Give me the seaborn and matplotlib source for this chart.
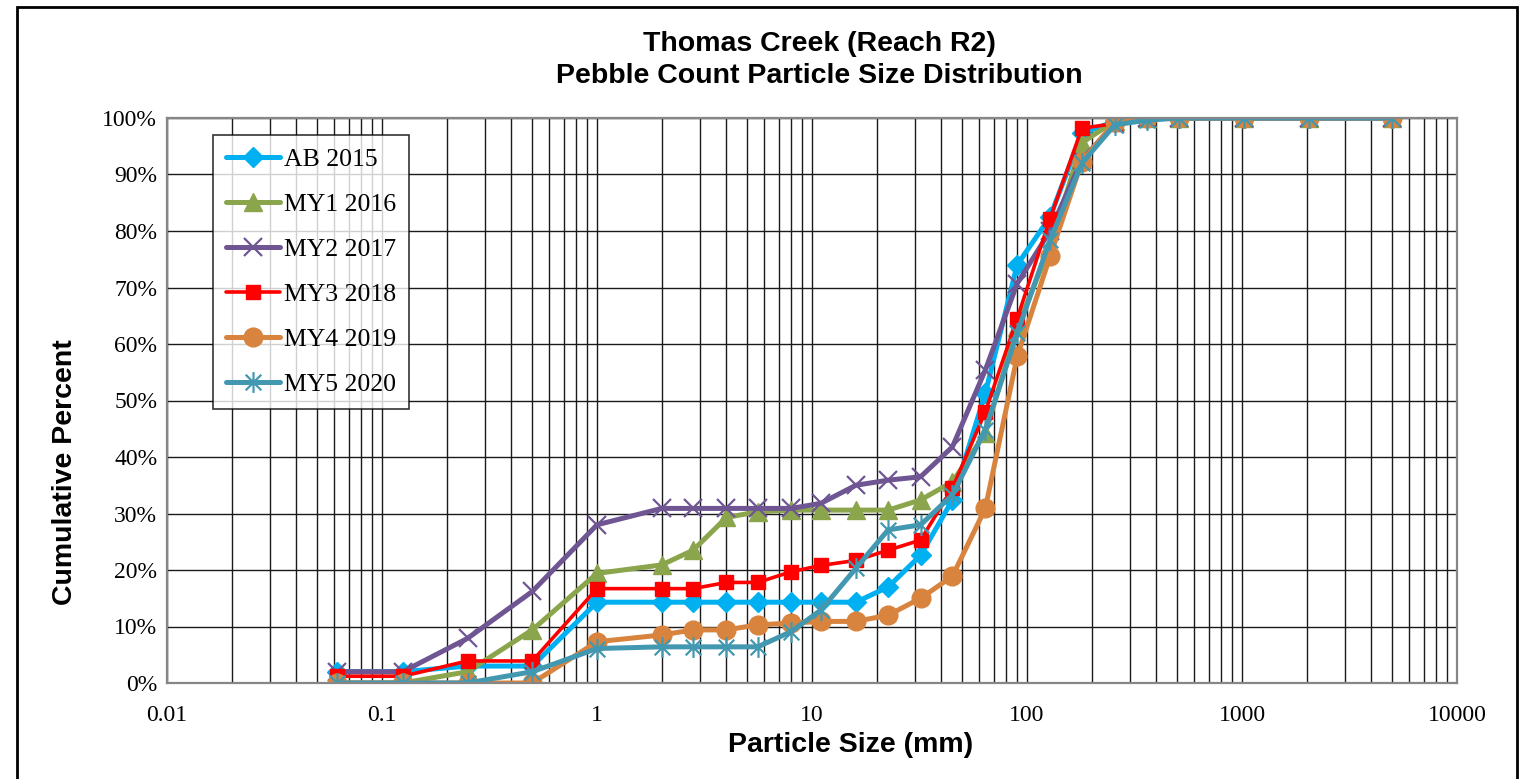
import numpy as np
import pandas as pd
import matplotlib
matplotlib.use("Agg")
import matplotlib.pyplot as plt
from matplotlib.path import Path
from matplotlib.patches import Rectangle
from matplotlib.ticker import FuncFormatter, LogLocator, FixedLocator
import seaborn as sns

# Sieve sizes (mm) and cumulative percent finer for each survey
particle_size_mm = [0.062, 0.125, 0.25, 0.5, 1, 2, 2.8, 4, 5.6, 8, 11, 16, 22.6,
                    32, 45, 64, 90, 128, 180, 256, 362, 512, 1024, 2048, 5000]

ab_2015 = [2, 2, 3, 3, 14.3, 14.3, 14.3, 14.3, 14.3, 14.3, 14.3, 14.3, 17, 22.6,
           32.4, 51.3, 74, 82.5, 97.3, 99.4, 100, 100, 100, 100, 100]
my1_2016 = [0, 0, 2, 9.4, 19.4, 20.9, 23.5, 29.3, 30.3, 30.6, 30.6, 30.6, 30.6,
            32.4, 35.6, 44.2, 63, 77.2, 95.6, 99.5, 100, 100, 100, 100, 100]
my2_2017 = [2, 2, 7.9, 16.2, 28, 30.9, 30.9, 30.9, 30.9, 30.9, 31.8, 35, 35.9,
            36.5, 41.8, 55.4, 70.7, 80, 92.6, 99, 100, 100, 100, 100, 100]
my3_2018 = [1.2, 1.2, 3.9, 3.9, 16.7, 16.7, 16.7, 17.8, 17.8, 19.7, 20.8, 21.7,
            23.5, 25.3, 34.5, 48, 64.5, 82.2, 98.2, 99, 100, 100, 100, 100, 100]
my4_2019 = [0, 0, 0, 0, 7.3, 8.5, 9.4, 9.4, 10.3, 10.6, 10.9, 10.9, 12, 15,
            18.9, 30.9, 57.8, 75.5, 92.3, 99.3, 100, 100, 100, 100, 100]
my5_2020 = [0, 0, 0, 2, 6.1, 6.4, 6.4, 6.4, 6.4, 9.1, 12.9, 20.3, 27.1, 28,
            33.3, 44.8, 61.9, 78.4, 92, 98.8, 99.6, 100, 100, 100, 100]

series_names = ["AB 2015", "MY1 2016", "MY2 2017", "MY3 2018", "MY4 2019", "MY5 2020"]
series_values = [ab_2015, my1_2016, my2_2017, my3_2018, my4_2019, my5_2020]

y_ticks = [0, 10, 20, 30, 40, 50, 60, 70, 80, 90, 100]
x_ticks = [0.01, 0.1, 1, 10, 100, 1000, 10000]
x_tick_labels = ["0.01", "0.1", "1", "10", "100", "1000", "10000"]

# asterisk marker: vertical bar plus an X
star_path = Path(
    [(0, -1), (0, 1), (-0.75, -0.75), (0.75, 0.75), (-0.75, 0.75), (0.75, -0.75)],
    [Path.MOVETO, Path.LINETO, Path.MOVETO, Path.LINETO, Path.MOVETO, Path.LINETO],
)

styles = {
    "AB 2015": dict(color="#00B0F0", marker="D", markersize=10, linewidth=3.6, mew=1),
    "MY1 2016": dict(color="#8BA54C", marker="^", markersize=13, linewidth=3.6, mew=1),
    "MY2 2017": dict(color="#6F5693", marker="x", markersize=13.5, linewidth=3.6, mew=1.6),
    "MY3 2018": dict(color="#FF0000", marker="s", markersize=10, linewidth=2.6, mew=1),
    "MY4 2019": dict(color="#D8843E", marker="o", markersize=13.5, linewidth=3.6, mew=1),
    "MY5 2020": dict(color="#4398B1", marker=star_path, markersize=15, linewidth=3.6, mew=1.6),
}

sns.set_style("white")
plt.rcParams["font.family"] = ["Liberation Serif", "DejaVu Serif"]
plt.rcParams["text.color"] = "black"
plt.rcParams["axes.labelcolor"] = "black"
plt.rcParams["xtick.color"] = "black"
plt.rcParams["ytick.color"] = "black"

W, H = 1523, 779
fig = plt.figure(figsize=(W / 100, H / 100), dpi=100)
ax = fig.add_axes([167 / W, 1 - 683 / H, 1290 / W, 565 / H])

for name, vals in zip(series_names, series_values):
    df = pd.DataFrame({"size": particle_size_mm, "pct": vals})
    st = styles[name]
    sns.lineplot(data=df, x="size", y="pct", ax=ax, label=name, color=st["color"],
                 marker=st["marker"], markersize=st["markersize"],
                 linewidth=st["linewidth"], markeredgewidth=st["mew"],
                 markeredgecolor=st["color"], markerfacecolor=st["color"],
                 errorbar=None, estimator=None, sort=False)

ax.set_xscale("log")
ax.set_xlim(0.01, 10000)
ax.set_ylim(0, 100)

ax.xaxis.set_major_locator(FixedLocator(x_ticks))
ax.xaxis.set_minor_locator(LogLocator(base=10, subs=np.arange(2, 10), numticks=50))
ax.set_xticklabels(x_tick_labels)
ax.xaxis.set_minor_formatter(plt.NullFormatter())
ax.set_yticks(y_ticks)
ax.yaxis.set_major_formatter(FuncFormatter(lambda v, p: f"{v:.0f}%"))

ax.grid(True, which="major", axis="both", color="#1a1a1a", linewidth=1.0)
ax.grid(True, which="minor", axis="x", color="#1a1a1a", linewidth=1.0)
ax.set_axisbelow(True)

for sp in ax.spines.values():
    sp.set_color("#868686")
    sp.set_linewidth(1.6)

ax.tick_params(axis="y", which="major", direction="out", length=4, width=1,
               color="#555555", pad=3, labelsize=17, labelcolor="black")
ax.tick_params(axis="x", which="major", direction="out", length=6, width=1,
               color="#555555", pad=10, labelsize=17, labelcolor="black")
ax.tick_params(axis="x", which="minor", direction="out", length=3, width=0.8,
               color="#555555")
ax.set_xlabel("")
ax.set_ylabel("")

leg = ax.legend(loc="upper left", bbox_to_anchor=(213 / W, 1 - 135 / H),
                bbox_transform=fig.transFigure, frameon=True, fancybox=False,
                fontsize=18.5, handlelength=2.1, handletextpad=0.15,
                labelspacing=0.86, borderpad=0.5, borderaxespad=0)
leg.get_frame().set_edgecolor("#000000")
leg.get_frame().set_linewidth(1.2)
for t in leg.get_texts():
    t.set_color("black")

bold_sans = ["Liberation Sans", "DejaVu Sans"]
fig.text(819 / W, 1 - 44 / H, "Thomas Creek (Reach R2)", ha="center", va="center",
         fontsize=20.5, fontweight="bold", family=bold_sans, color="black")
fig.text(819 / W, 1 - 76 / H, "Pebble Count Particle Size Distribution", ha="center",
         va="center", fontsize=20.5, fontweight="bold", family=bold_sans, color="black")
fig.text(65 / W, 1 - 472 / H, "Cumulative Percent", ha="center", va="center",
         rotation=90, fontsize=20.5, fontweight="bold", family=bold_sans, color="black")
fig.text(851 / W, 1 - 745 / H, "Particle Size (mm)", ha="center", va="center",
         fontsize=20.5, fontweight="bold", family=bold_sans, color="black")

# chart frame
fig.patches.append(Rectangle((17 / W, -0.05), 1500 / W, 1.05 - 7 / H,
                             transform=fig.transFigure, fill=False,
                             edgecolor="black", linewidth=2))

fig.savefig("out.png", dpi=100)
